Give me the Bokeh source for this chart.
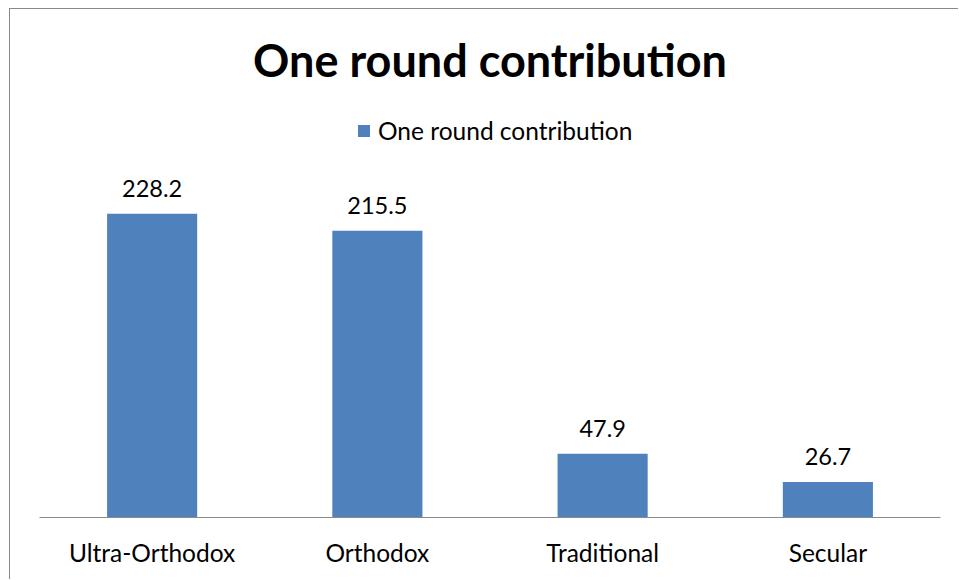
from bokeh.plotting import figure
from bokeh.models import ColumnDataSource, Range1d, FactorRange, LabelSet, Label, Legend, LegendItem
from bokeh.core.properties import value
from bokeh.embed import file_html
from bokeh.resources import INLINE

categories = ["Ultra-Orthodox", "Orthodox", "Traditional", "Secular"]
values = [228.2, 215.5, 47.9, 26.7]
value_labels = ["228.2", "215.5", "47.9", "26.7"]
series_name = "One round contribution"
title_text = "One round contribution"

BAR = "#4F81BD"
GRAY = "#898989"
FONT = "Lato"

src = ColumnDataSource(dict(cat=categories, val=values, lab=value_labels))

p = figure(x_range=FactorRange(*categories), y_range=Range1d(0, 381),
           width=949, height=571, output_backend="svg", toolbar_location=None,
           min_border_left=29, min_border_right=19, min_border_top=1,
           min_border_bottom=63, title=None, margin=(8, 0, 0, 9),
           styles={"border-left": "1px solid " + GRAY, "border-top": "1px solid " + GRAY})

r = p.vbar(x="cat", top="val", width=0.4, source=src, fill_color=BAR, line_color=None)

labels = LabelSet(x="cat", y="val", text="lab", source=src, text_align="center",
                  text_baseline="alphabetic", y_offset=17, text_font=value(FONT),
                  text_font_size=value("23.5px"), text_color="black")
p.add_layout(labels)

legend = Legend(items=[LegendItem(label=series_name, renderers=[r])], location=(317, 372),
                orientation="horizontal", border_line_color=None, background_fill_alpha=0,
                glyph_width=15, glyph_height=15, label_standoff=7, padding=0, margin=0,
                label_text_font=FONT, label_text_font_size="24.5px", label_text_color="black")
p.add_layout(legend)

title = Label(x=450.5, y=458, x_units="screen", y_units="screen", text=title_text,
              text_align="center", text_baseline="alphabetic", text_font=FONT,
              text_font_style="bold", text_font_size="45px", text_color="black")
p.add_layout(title)

p.xaxis.axis_line_color = GRAY
p.xaxis.axis_line_width = 1
p.xaxis.major_tick_line_color = None
p.xaxis.minor_tick_line_color = None
p.xaxis.major_label_text_font = FONT
p.xaxis.major_label_text_font_size = "24.5px"
p.xaxis.major_label_text_color = "black"
p.xaxis.major_label_standoff = 14
p.yaxis.visible = False
p.xgrid.grid_line_color = None
p.ygrid.grid_line_color = None
p.outline_line_color = None

open("out.html", "w").write(file_html(p, INLINE))
